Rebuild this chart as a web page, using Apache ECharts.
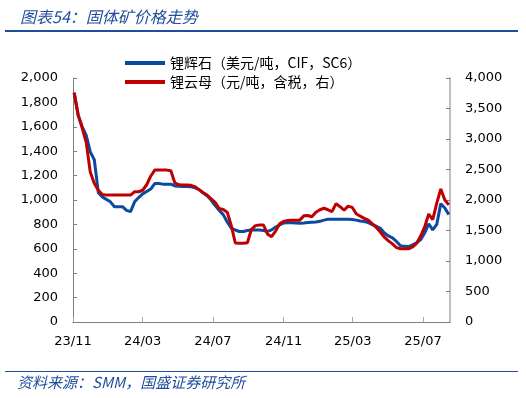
<!DOCTYPE html>
<html>
<head>
<meta charset="utf-8">
<script src="https://cdn.jsdelivr.net/npm/echarts@6/dist/echarts.min.js"></script>
<style>
  html, body { margin: 0; padding: 0; background: #fff; }
  #chart { width: 526px; height: 398px; }
</style>
</head>
<body>
<div id="chart"></div>
<script>
// weekly dates
var dates = [
  '2023-11-03','2023-11-10','2023-11-17','2023-11-24','2023-12-01','2023-12-08','2023-12-15','2023-12-22','2023-12-29',
  '2024-01-05','2024-01-12','2024-01-19','2024-01-26','2024-02-02','2024-02-09','2024-02-16','2024-02-23',
  '2024-03-01','2024-03-08','2024-03-15','2024-03-22','2024-03-29','2024-04-05','2024-04-12','2024-04-19','2024-04-26',
  '2024-05-03','2024-05-10','2024-05-17','2024-05-24','2024-05-31','2024-06-07','2024-06-14','2024-06-21','2024-06-28',
  '2024-07-05','2024-07-12','2024-07-19','2024-07-26','2024-08-02','2024-08-09','2024-08-16','2024-08-23','2024-08-30',
  '2024-09-06','2024-09-13','2024-09-20','2024-09-27','2024-10-04','2024-10-11','2024-10-18','2024-10-25',
  '2024-11-01','2024-11-08','2024-11-15','2024-11-22','2024-11-29','2024-12-06','2024-12-13','2024-12-20','2024-12-27',
  '2025-01-03','2025-01-10','2025-01-17','2025-01-24','2025-01-31','2025-02-07','2025-02-14','2025-02-21','2025-02-28',
  '2025-03-07','2025-03-14','2025-03-21','2025-03-28','2025-04-04','2025-04-11','2025-04-18','2025-04-25',
  '2025-05-02','2025-05-09','2025-05-16','2025-05-23','2025-05-30','2025-06-06','2025-06-13','2025-06-20','2025-06-27',
  '2025-07-04','2025-07-11','2025-07-18','2025-07-25','2025-08-01','2025-08-08','2025-08-15'
];

// 锂辉石 美元/吨 (left axis)
var spodumene = [
  1880,1690,1600,1530,1395,1330,1060,1025,1005,
  985,945,945,945,915,905,985,1020,
  1050,1070,1090,1135,1135,1130,1130,1130,1115,
  1112,1110,1110,1108,1100,1085,1060,1035,1000,
  955,915,880,820,770,754,742,742,750,
  754,754,754,750,742,755,778,795,
  812,814,814,812,810,812,815,818,820,
  825,835,842,842,842,842,842,842,840,
  835,828,824,815,798,785,768,730,
  705,690,660,625,620,618,632,650,675,
  730,805,755,800,970,935,880
];

// 锂云母 元/吨 (right axis)
var lepidolite = [
  3760,3400,3180,2940,2460,2270,2160,2090,2080,
  2080,2080,2080,2080,2080,2080,2135,2135,
  2160,2250,2390,2490,2490,2490,2490,2480,2280,
  2250,2245,2245,2240,2220,2170,2120,2080,2020,
  1960,1860,1845,1800,1580,1295,1290,1290,1300,
  1520,1580,1590,1590,1440,1400,1490,1610,
  1650,1665,1670,1670,1670,1740,1745,1725,1800,
  1840,1865,1840,1810,1940,1890,1835,1900,1880,
  1775,1735,1700,1670,1610,1550,1475,1390,
  1330,1280,1220,1200,1200,1200,1230,1290,1410,
  1560,1770,1680,1950,2180,2000,1920
];

var tickDates = ['2023-11-01','2024-03-01','2024-07-01','2024-11-01','2025-03-01','2025-07-01'];
var seriesNames = ['锂辉石（美元/吨，CIF，SC6）', '锂云母（元/吨，含税，右）'];

function ts(s) {
  var p = s.split('-');
  return Date.UTC(+p[0], +p[1] - 1, +p[2]);
}
function pairs(vals) {
  return dates.map(function (d, i) { return [ts(d), vals[i]]; });
}
function comma(v) {
  return String(v).replace(/\B(?=(\d{3})+(?!\d))/g, ',');
}

var axisFont = { fontFamily: 'DejaVu Sans', fontSize: 13, color: '#000' };
var tickTs = tickDates.map(ts);

var chart = echarts.init(document.getElementById('chart'), null, { renderer: 'canvas' });
chart.setOption({
  animation: false,
  backgroundColor: '#fff',
  title: {
    text: '图表54：固体矿价格走势',
    left: 15, top: 4,
    textStyle: {
      fontFamily: 'Noto Sans CJK SC', fontSize: 16, fontWeight: 'normal',
      fontStyle: 'italic', color: '#1f4e9c'
    }
  },
  graphic: [
    { type: 'rect', shape: { x: 5, y: 30, width: 513, height: 2 }, style: { fill: '#1f4e9c' } },
    { type: 'rect', shape: { x: 5, y: 371, width: 513, height: 1 }, style: { fill: '#1f4e9c' } },
    {
      type: 'text', left: 17, top: 375,
      style: {
        text: '资料来源：SMM，国盛证券研究所',
        font: 'italic 15px "Noto Sans CJK SC"', fill: '#1f4e9c'
      }
    }
  ],
  legend: {
    orient: 'vertical',
    left: 120, top: 51,
    itemWidth: 40, itemHeight: 4, itemGap: 5,
    icon: 'rect',
    textStyle: { fontFamily: 'Noto Sans CJK SC', fontSize: 14, color: '#000' },
    data: seriesNames
  },
  grid: { left: 73, right: 76, top: 78, bottom: 76, containLabel: false },
  // dates as a plain value axis so tick positions can be set exactly
  xAxis: {
    type: 'value',
    min: ts('2023-11-01'),
    max: ts('2025-08-17'),
    splitLine: { show: false },
    axisLine: { lineStyle: { color: '#808080' } },
    axisTick: { inside: true, length: 5, lineStyle: { color: '#aaa' }, customValues: tickTs },
    axisLabel: Object.assign({
      margin: 13,
      customValues: tickTs,
      formatter: function (v) {
        var d = new Date(v);
        var m = d.getUTCMonth() + 1;
        return String(d.getUTCFullYear()).slice(2) + '/' + (m < 10 ? '0' + m : m);
      }
    }, axisFont)
  },
  yAxis: [
    {
      type: 'value', min: 0, max: 2000, interval: 200,
      splitLine: { show: false },
      axisLine: { show: true, lineStyle: { color: '#808080' } },
      axisTick: { show: true, inside: true, length: 4, lineStyle: { color: '#808080' } },
      axisLabel: Object.assign({ margin: 15, formatter: comma }, axisFont)
    },
    {
      type: 'value', min: 0, max: 4000, interval: 500,
      splitLine: { show: false },
      axisLine: { show: true, lineStyle: { color: '#bfbfbf', width: 2 } },
      axisTick: { show: true, inside: true, length: 4, lineStyle: { color: '#808080' } },
      axisLabel: Object.assign({ margin: 15, formatter: comma }, axisFont)
    }
  ],
  series: [
    {
      name: seriesNames[0], type: 'line', yAxisIndex: 0,
      showSymbol: false, symbol: 'none',
      lineStyle: { color: '#0a4aa0', width: 3 },
      itemStyle: { color: '#0a4aa0' },
      data: pairs(spodumene)
    },
    {
      name: seriesNames[1], type: 'line', yAxisIndex: 1,
      showSymbol: false, symbol: 'none',
      lineStyle: { color: '#c00000', width: 3 },
      itemStyle: { color: '#c00000' },
      data: pairs(lepidolite)
    }
  ]
});
</script>
</body>
</html>
